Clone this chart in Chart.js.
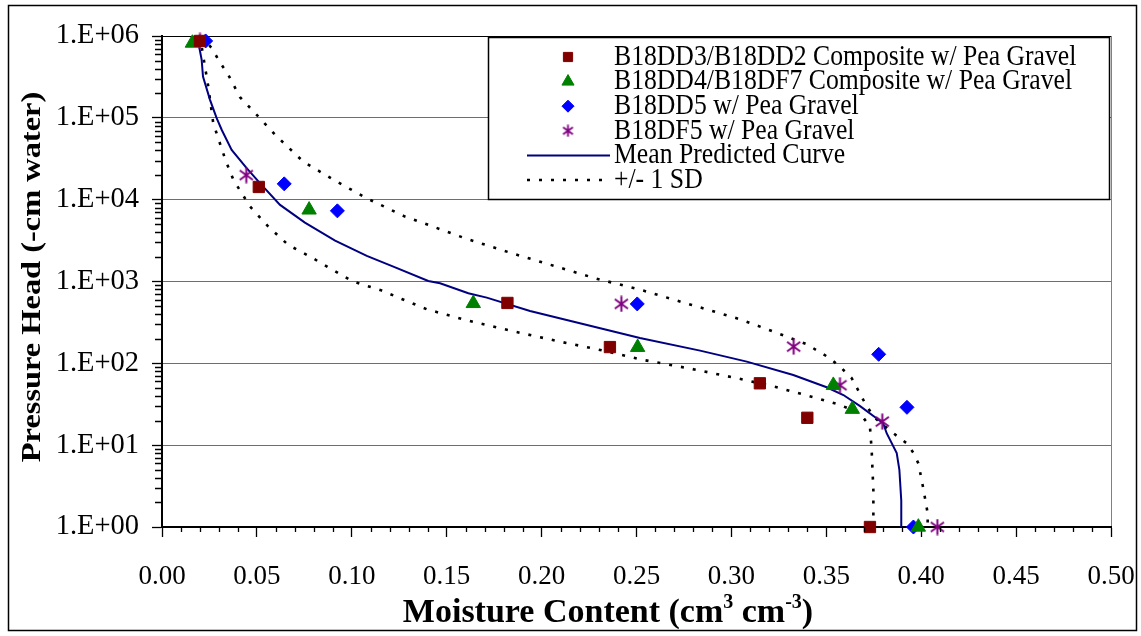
<!DOCTYPE html>
<html><head><meta charset="utf-8">
<script src="https://cdn.jsdelivr.net/npm/chart.js@4/dist/chart.umd.min.js"></script>
<style>html,body{margin:0;padding:0;background:#fff;}#wrap{position:relative;width:1141px;height:636px;}</style>
</head><body><div id="wrap"><canvas id="c" width="1141" height="636"></canvas></div>
<script>
// ---------- data ----------
const seriesNames = [
  'B18DD3/B18DD2 Composite w/ Pea Gravel',
  'B18DD4/B18DF7 Composite w/ Pea Gravel',
  'B18DD5 w/ Pea Gravel',
  'B18DF5 w/ Pea Gravel',
  'Mean Predicted Curve',
  '+/- 1 SD'
];
const xTitle = 'Moisture Content (cm';
const yTitle = 'Pressure Head (-cm water)';

const sqX = [0.020, 0.051, 0.182, 0.236, 0.315, 0.340, 0.373];
const sqY = [8.7e5, 1.43e4, 547, 158, 57, 21.6, 1];

const triX = [0.016, 0.0775, 0.164, 0.2506, 0.3537, 0.3637, 0.3985];
const triY = [8.2e5, 7500, 540, 157, 54, 27.5, 1];

const diaX = [0.023, 0.0644, 0.0924, 0.2504, 0.3776, 0.3925, 0.3959];
const diaY = [8.7e5, 15600, 7300, 532, 129, 29, 1];

const astX = [0.020, 0.0444, 0.242, 0.3328, 0.3572, 0.3795, 0.4085];
const astY = [8.7e5, 19950, 532, 160, 54, 19.4, 1];

const meanX = [0.0185, 0.0209, 0.0216, 0.0253, 0.0288, 0.0315, 0.0367, 0.0446, 0.0516, 0.0622, 0.0753, 0.0912, 0.1079, 0.1219, 0.1403, 0.1465, 0.1614, 0.1711, 0.1939, 0.2518, 0.2835, 0.3081, 0.3326, 0.3502, 0.359, 0.3678, 0.380, 0.3818, 0.3871, 0.3885, 0.3895, 0.3895];
const meanY = [1e6, 5.1e5, 3.2e5, 1.66e5, 9.9e4, 7.1e4, 4.06e4, 2.43e4, 1.59e4, 8630, 5250, 3160, 2055, 1520, 1016, 953, 719, 635, 437, 204, 143, 105, 72, 51, 41, 30, 18.5, 14, 8, 5, 2.1, 1];

const loX = [0.020, 0.0223, 0.0244, 0.027, 0.0334, 0.0376, 0.0464, 0.056, 0.0665, 0.078, 0.0894, 0.1008, 0.1149, 0.1263, 0.1395, 0.1584, 0.1842, 0.2097, 0.229, 0.2536, 0.2791, 0.3054, 0.3239, 0.3432, 0.3563, 0.3678, 0.373, 0.3739, 0.3748, 0.3748];
const loY = [1e6, 4.7e5, 2.4e5, 8.6e4, 3.07e4, 1.75e4, 8240, 4690, 2800, 2015, 1413, 997, 789, 612, 458, 346, 249, 184, 149, 110, 85.5, 64, 51, 38.5, 31.6, 24.5, 16.8, 8.7, 2.8, 1];

const upX = [0.0209, 0.0262, 0.0306, 0.0349, 0.0411, 0.0499, 0.0595, 0.0744, 0.0911, 0.1079, 0.128, 0.1403, 0.1596, 0.1842, 0.2035, 0.2281, 0.2536, 0.2791, 0.3045, 0.323, 0.3397, 0.352, 0.3581, 0.3634, 0.3695, 0.3748, 0.3853, 0.3924, 0.3958, 0.3985, 0.4011, 0.4034, 0.4034];
const upY = [1e6, 7.1e5, 4.74e5, 3.36e5, 1.79e5, 1.09e5, 6.24e4, 2.92e4, 1.71e4, 1.04e4, 6210, 4920, 3380, 2220, 1630, 1097, 774, 517, 346, 240, 171, 115, 87, 65.8, 35.7, 22.3, 14, 10.5, 8.1, 6.0, 2.97, 1.47, 1];

const yTickValues = [1, 10, 100, 1000, 10000, 100000, 1000000];
const yTickLabels = ['1.E+00', '1.E+01', '1.E+02', '1.E+03', '1.E+04', '1.E+05', '1.E+06'];
const xTickValues = [0, 0.05, 0.10, 0.15, 0.20, 0.25, 0.30, 0.35, 0.40, 0.45, 0.50];
const xTickLabels = ['0.00', '0.05', '0.10', '0.15', '0.20', '0.25', '0.30', '0.35', '0.40', '0.45', '0.50'];

// ---------- helpers ----------
const FONT = '"Liberation Serif", "Times New Roman", serif';
const pts = (xs, ys) => xs.map((x, i) => ({x: x, y: ys[i]}));
const isDecade = v => Math.abs(Math.log10(v) - Math.round(Math.log10(v))) < 1e-9;

function makeAsterisk(size, color, lw) {
  const c = document.createElement('canvas');
  c.width = size; c.height = size;
  const g = c.getContext('2d');
  g.strokeStyle = color; g.lineWidth = lw; g.lineCap = 'butt';
  const m = size / 2, r = size / 2 - 0.5;
  g.beginPath();
  g.moveTo(m, m - r); g.lineTo(m, m + r);
  const d = r * 0.82;
  g.moveTo(m - d, m - d * 0.72); g.lineTo(m + d, m + d * 0.72);
  g.moveTo(m + d, m - d * 0.72); g.lineTo(m - d, m + d * 0.72);
  g.stroke();
  return c;
}
const astImg = makeAsterisk(17, '#800080', 2);
const astImgSmall = makeAsterisk(13, '#800080', 1.8);

const datasets = [
  {label: seriesNames[0], data: pts(sqX, sqY), pointStyle: 'rect', pointRadius: 8, borderWidth: 1,
   backgroundColor: '#800000', borderColor: '#800000', showLine: false, clip: false, order: 0},
  {label: seriesNames[1], data: pts(triX, triY), pointStyle: 'triangle', pointRadius: 8.3, borderWidth: 1,
   backgroundColor: '#008000', borderColor: '#008000', showLine: false, clip: false, order: 0},
  {label: seriesNames[2], data: pts(diaX, diaY), pointStyle: 'rectRot', pointRadius: 7, borderWidth: 1,
   backgroundColor: '#0000FF', borderColor: '#0000FF', showLine: false, clip: false, order: 0},
  {label: seriesNames[3], data: pts(astX, astY), pointStyle: astImg, pointRadius: 8,
   backgroundColor: '#800080', borderColor: '#800080', showLine: false, clip: false, order: 0},
  {label: seriesNames[4], data: pts(meanX, meanY), showLine: true, borderColor: '#000080', borderWidth: 2,
   pointRadius: 0, tension: 0, fill: false, clip: false, order: 1},
  {label: seriesNames[5], data: pts(loX, loY), showLine: true, borderColor: '#000', borderWidth: 2.6,
   borderDash: [3, 9], pointRadius: 0, tension: 0, fill: false, clip: false, order: 1},
  {label: seriesNames[5], data: pts(upX, upY), showLine: true, borderColor: '#000', borderWidth: 2.6,
   borderDash: [3, 9], pointRadius: 0, tension: 0, fill: false, clip: false, order: 1}
];

// ---------- custom drawing: minor ticks, frame, titles, legend ----------
const decor = {
  id: 'decor',
  afterDraw(chart) {
    const ctx = chart.ctx, ca = chart.chartArea;
    const xs = chart.scales.x, ys = chart.scales.y;
    ctx.save();
    // minor ticks
    ctx.strokeStyle = '#000'; ctx.lineWidth = 1.3;
    ctx.beginPath();
    xs.ticks.forEach(t => {
      const k = Math.round(t.value * 100);
      if (k % 5 !== 0) { const px = Math.round(xs.getPixelForValue(t.value)) + 0.5; ctx.moveTo(px, ca.bottom); ctx.lineTo(px, ca.bottom + 5); }
    });
    ys.ticks.forEach(t => {
      if (!isDecade(t.value)) { const py = Math.round(ys.getPixelForValue(t.value)) + 0.5; ctx.moveTo(ca.left, py); ctx.lineTo(ca.left - 7, py); }
    });
    ctx.stroke();
    // outer frame
    ctx.strokeStyle = '#000'; ctx.lineWidth = 1.5;
    ctx.strokeRect(8.5, 5.5, 1128, 625);
    // y title
    ctx.fillStyle = '#000';
    ctx.save();
    ctx.translate(33, 277);
    ctx.rotate(-Math.PI / 2);
    ctx.scale(1.2, 1);
    ctx.font = 'bold 27px ' + FONT;
    ctx.textAlign = 'center'; ctx.textBaseline = 'middle';
    ctx.fillText(yTitle, 0, 0);
    ctx.restore();
    // x title with superscripts
    ctx.save();
    const big = 'bold 34px ' + FONT, small = 'bold 20px ' + FONT;
    const parts = [[xTitle, big, 0], ['3', small, -14], [' cm', big, 0], ['-3', small, -14], [')', big, 0]];
    let w = 0;
    parts.forEach(p => { ctx.font = p[1]; w += ctx.measureText(p[0]).width; });
    let x = 608 - w / 2;
    const yb = 622;
    ctx.textBaseline = 'alphabetic'; ctx.textAlign = 'left';
    parts.forEach(p => { ctx.font = p[1]; ctx.fillText(p[0], x, yb + p[2]); x += ctx.measureText(p[0]).width; });
    ctx.restore();
    // legend
    const L = {x: 488.5, y: 37.5, w: 621, h: 162};
    ctx.fillStyle = '#fff';
    ctx.fillRect(L.x, L.y, L.w, L.h);
    ctx.strokeStyle = '#000'; ctx.lineWidth = 1.5;
    ctx.strokeRect(L.x, L.y, L.w, L.h);
    const rowY = i => 57 + i * 24.6;
    const mx = 568, tx = 614;
    const markerOpts = [
      {pointStyle: 'rect', radius: 6.5, fill: '#800000'},
      {pointStyle: 'triangle', radius: 7, fill: '#008000'},
      {pointStyle: 'rectRot', radius: 6, fill: '#0000FF'},
      {pointStyle: astImgSmall, radius: 6, fill: '#800080'}
    ];
    markerOpts.forEach((m, i) => {
      ctx.fillStyle = m.fill; ctx.strokeStyle = m.fill; ctx.lineWidth = 1;
      Chart.helpers.drawPoint(ctx, {pointStyle: m.pointStyle, radius: m.radius, borderWidth: 1, rotation: 0}, mx, rowY(i));
    });
    ctx.setLineDash([]);
    ctx.strokeStyle = '#000080'; ctx.lineWidth = 2;
    ctx.beginPath(); ctx.moveTo(527, rowY(4)); ctx.lineTo(610, rowY(4)); ctx.stroke();
    ctx.strokeStyle = '#000'; ctx.lineWidth = 2.6; ctx.setLineDash([3, 9]);
    ctx.beginPath(); ctx.moveTo(527, rowY(5)); ctx.lineTo(610, rowY(5)); ctx.stroke();
    ctx.setLineDash([]);
    ctx.fillStyle = '#000';
    ctx.font = '25.7px ' + FONT; ctx.textAlign = 'left'; ctx.textBaseline = 'middle';
    seriesNames.forEach((s, i) => {
      ctx.save(); ctx.translate(tx, rowY(i)); ctx.scale(1, 1.15); ctx.fillText(s, 0, 0); ctx.restore();
    });
    ctx.restore();
  }
};

new Chart(document.getElementById('c'), {
  type: 'scatter',
  data: {datasets: datasets},
  plugins: [decor],
  options: {
    responsive: false, animation: false, devicePixelRatio: 1,
    layout: {padding: {left: 0, right: 30, top: 36, bottom: 0}},
    plugins: {legend: {display: false}, tooltip: {enabled: false}, title: {display: false}},
    scales: {
      x: {
        type: 'linear', min: 0, max: 0.5, position: 'bottom',
        afterFit: s => { s.height = 109; s.paddingLeft = 0; s.paddingRight = 0; },
        afterBuildTicks: s => {
          const arr = [];
          for (let k = 0; k <= 50; k++) arr.push({value: k / 100});
          s.ticks = arr;
        },
        ticks: {
          autoSkip: false, maxRotation: 0, color: '#000', padding: 24,
          font: {family: FONT, size: 27},
          callback: v => { const i = xTickValues.findIndex(t => Math.abs(t - v) < 1e-9); return i >= 0 ? xTickLabels[i] : ''; }
        },
        grid: {
          drawOnChartArea: true, tickLength: 10, tickWidth: 1.3, lineWidth: 1,
          color: c => (c.tick && Math.abs(c.tick.value - 0.5) < 1e-9) ? '#808080' : 'rgba(0,0,0,0)',
          tickColor: c => (c.tick && Math.round(c.tick.value * 100) % 5 === 0) ? '#000' : 'rgba(0,0,0,0)'
        },
        border: {color: '#000', width: 2}
      },
      y: {
        type: 'logarithmic', min: 1, max: 1e6,
        afterFit: s => { s.width = 162; s.paddingTop = 0; s.paddingBottom = 0; },
        afterBuildTicks: s => {
          const arr = [];
          for (let e = 0; e <= 6; e++) {
            for (let m = 1; m <= 9; m++) { const v = m * Math.pow(10, e); if (v <= 1e6) arr.push({value: v}); }
          }
          s.ticks = arr;
        },
        ticks: {
          autoSkip: false, color: '#000', padding: 13,
          font: {family: FONT, size: 28.5},
          callback: v => { const i = yTickValues.findIndex(t => Math.abs(t - v) < 1e-6 * t); return i >= 0 ? yTickLabels[i] : ''; }
        },
        grid: {
          drawOnChartArea: true, tickLength: 10, tickWidth: 1.3, lineWidth: 1,
          color: c => {
            if (!c.tick || !isDecade(c.tick.value)) return 'rgba(0,0,0,0)';
            if (c.tick.value === 1) return 'rgba(0,0,0,0)';
            if (c.tick.value === 1e6) return '#000';
            return '#6e6e6e';
          },
          tickColor: c => (c.tick && isDecade(c.tick.value)) ? '#000' : 'rgba(0,0,0,0)'
        },
        border: {color: '#000', width: 2}
      }
    }
  }
});
</script></body></html>
